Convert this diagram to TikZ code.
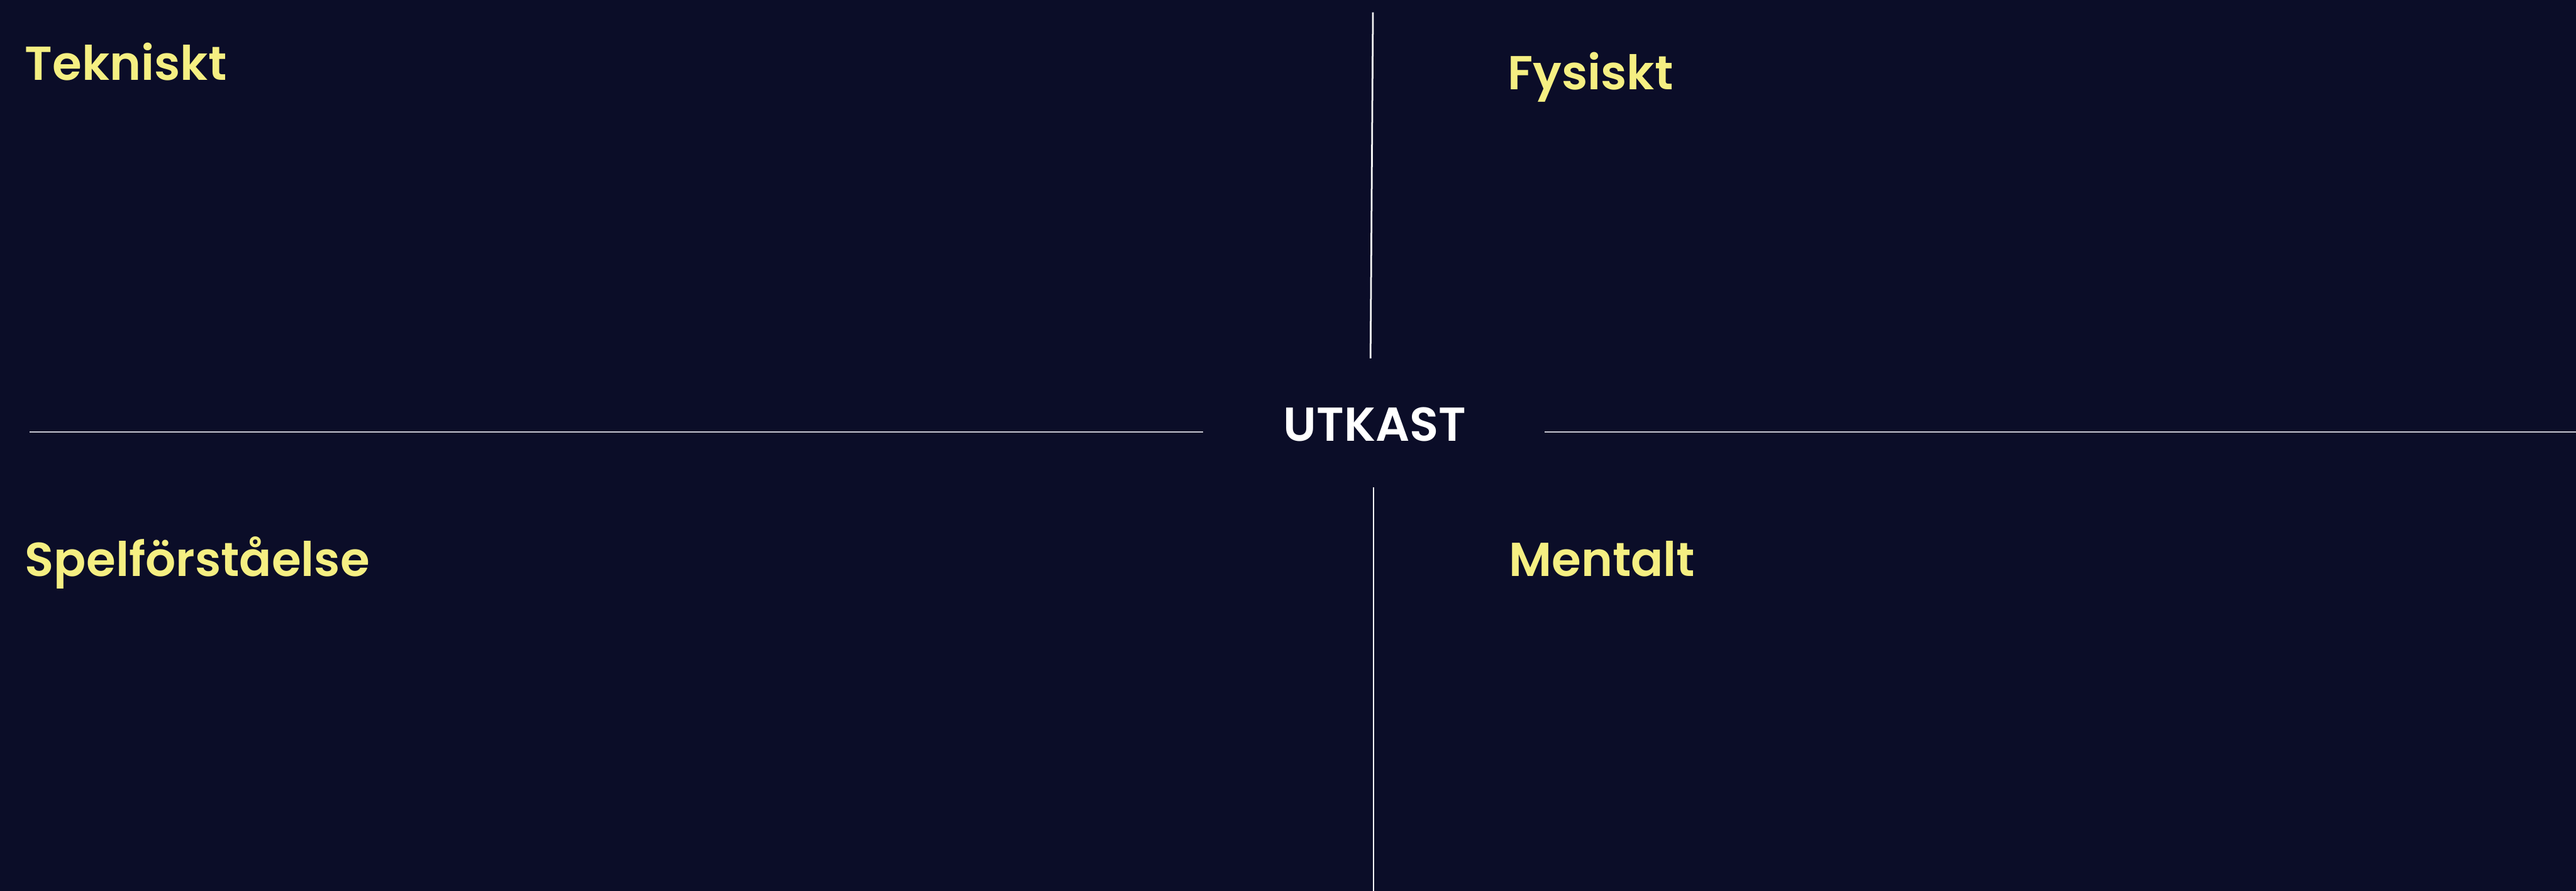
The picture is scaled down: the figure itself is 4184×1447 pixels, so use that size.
\documentclass[tikz,border=0pt]{standalone}
\usepackage{fontspec}
\newfontfamily\labelfont{Poppins SemiBold}
\definecolor{bgnavy}{RGB}{11,13,40}
\definecolor{labelyellow}{RGB}{245,239,130}
\definecolor{linegray}{RGB}{200,200,210}
\begin{document}
\begin{tikzpicture}[x=0.01cm,y=-0.01cm,
  quadlabel/.style={anchor=base west,inner sep=0pt,text=labelyellow,font=\labelfont\fontsize{22}{26}\selectfont},
  centerlabel/.style={anchor=base,inner sep=0pt,text=white,font=\labelfont\fontsize{22}{26}\selectfont},
  axisline/.style={draw=linegray,line width=0.7pt},
  vline/.style={draw=white!92!gray,line width=0.8pt}]
\fill[bgnavy] (0,0) rectangle (4184,1447);
\useasboundingbox (0,0) rectangle (4184,1447);
% axis coordinates
\coordinate (hl1) at (48,702);
\coordinate (hl2) at (1954,702);
\coordinate (hr1) at (2509,702);
\coordinate (hr2) at (4184,702);
\coordinate (vt1) at (2230,20);
\coordinate (vt2) at (2226,582);
\coordinate (vb1) at (2231,792);
\coordinate (vb2) at (2231,1447);
\draw[axisline] (hl1) -- (hl2);
\draw[axisline] (hr1) -- (hr2);
\draw[vline] (vt1) -- (vt2);
\draw[vline] (vb1) -- (vb2);
% labels
\node[quadlabel] (tek) at (40,130) {Tekniskt};
\node[quadlabel] (fys) at (2448,146) {Fysiskt};
\node[quadlabel] (spel) at (40,936) {Spelförståelse};
\node[quadlabel] (ment) at (2450,936) {Mentalt};
\node[centerlabel] (utk) at (2233,717) {UTKAST};
\end{tikzpicture}
\end{document}
